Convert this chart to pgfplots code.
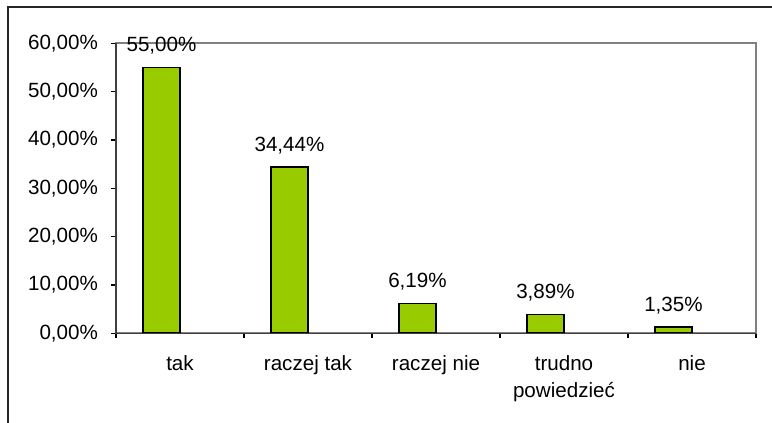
\documentclass[border=0pt]{standalone}
\usepackage{pgfplots}
\pgfplotsset{compat=1.18}
\usepackage{fontspec}
\setmainfont{Liberation Sans}
\definecolor{bargreen}{HTML}{99CC00}
\begin{document}
\begin{tikzpicture}
\begin{axis}[
  at={(0,0)}, anchor=south west,
  scale only axis, width=320pt, height=145pt,
  xmin=-0.5, xmax=4.5, ymin=0, ymax=60,
  axis line style={draw=black!50, line width=1pt},
  xtick={-0.5,0.5,1.5,2.5,3.5,4.5},
  x tick label as interval,
  xticklabels={tak, raczej tak, raczej nie, {\begin{tabular}[t]{@{}c@{}}trudno\\powiedzieć\end{tabular}}, nie},
  ytick={0,10,20,30,40,50,60},
  tick align=outside, xtick pos=bottom, ytick pos=left,
  major tick length=2.5pt,
  tick style={black, line width=0.6pt},
  /pgf/number format/.cd, fixed, zerofill, precision=2, use comma, assume math mode=true,
  /pgfplots/.cd,
  yticklabel={\pgfmathprintnumber{\tick}\%},
  yticklabel style={font=\fontsize{10.3}{12}\selectfont, xshift=-3pt},
  xticklabel style={font=\fontsize{10.3}{13.5}\selectfont, anchor=base, yshift=-16pt},
  ybar, bar width=18.5pt, bar shift=-9.25pt,
  nodes near coords={\pgfmathprintnumber{\pgfplotspointmeta}\%},
  every node near coord/.append style={font=\fontsize{10.3}{12}\selectfont, anchor=base, yshift=7.75pt, black},
  clip=false,
]
\addplot[fill=bargreen, draw=black, line width=0.8pt] coordinates {(0,55.00) (1,34.44) (2,6.19) (3,3.89) (4,1.35)};
\draw[black!75, line width=0.7pt] (rel axis cs:0,1) -- (rel axis cs:0,0) -- (rel axis cs:1,0);
\end{axis}
\draw[black!85, line width=1pt] (-54.2pt,-60pt) -- (-54.2pt,163.2pt) -- (340pt,163.2pt);
\pgfresetboundingbox
\path (-58pt,-44.85pt) rectangle (328pt,166.65pt);
\end{tikzpicture}
\end{document}
